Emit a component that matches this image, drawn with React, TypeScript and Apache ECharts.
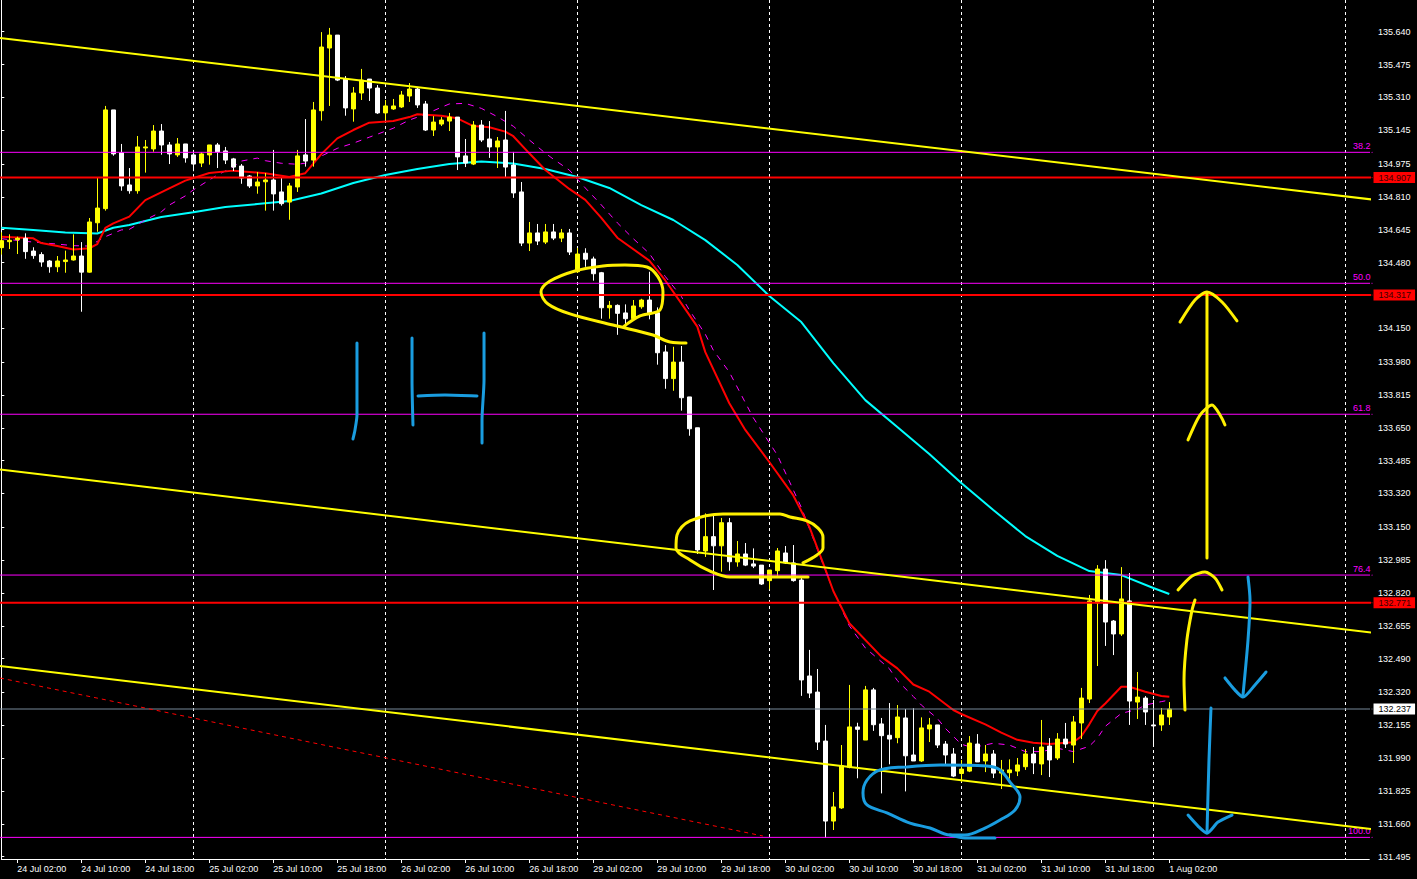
import React, { useEffect, useRef } from "react";
import * as echarts from "echarts";

// ---------- time slots ----------
const DAYS = ["24 Jul", "25 Jul", "26 Jul", "29 Jul", "30 Jul", "31 Jul", "1 Aug", "2 Aug"];
const SLOT_COUNT = 172;
const CATEGORIES: string[] = [];
for (let i = 0; i < SLOT_COUNT; i++) {
  CATEGORIES.push(`${DAYS[Math.floor(i / 24)]} ${String(i % 24).padStart(2, "0")}:00`);
}
const X_TICK_LABELS = [
  "24 Jul 02:00", "24 Jul 10:00", "24 Jul 18:00", "25 Jul 02:00", "25 Jul 10:00", "25 Jul 18:00",
  "26 Jul 02:00", "26 Jul 10:00", "26 Jul 18:00", "29 Jul 02:00", "29 Jul 10:00", "29 Jul 18:00",
  "30 Jul 02:00", "30 Jul 10:00", "30 Jul 18:00", "31 Jul 02:00", "31 Jul 10:00", "31 Jul 18:00",
  "1 Aug 02:00",
];
const DAY_START_SLOTS = ["24 Jul 00:00", "25 Jul 00:00", "26 Jul 00:00", "29 Jul 00:00", "30 Jul 00:00", "31 Jul 00:00", "1 Aug 00:00", "2 Aug 00:00"];

// ---------- price axis ----------
const Y_MIN = 131.4834;
const Y_MAX = 135.7993;
const Y_TICKS = [
  135.64, 135.475, 135.31, 135.145, 134.975, 134.81, 134.645, 134.48, 134.15, 133.98, 133.815,
  133.65, 133.485, 133.32, 133.15, 132.985, 132.82, 132.655, 132.49, 132.32, 132.155, 131.99,
  131.825, 131.66, 131.495,
];

// ---------- candles (H1) ----------
const OPEN = [
  134.555, 134.585, 134.595, 134.602, 134.538, 134.520, 134.488, 134.459, 134.485, 134.493,
  134.513, 134.432, 134.680, 134.751, 135.247, 135.032, 134.870, 134.841, 135.056, 135.051,
  135.141, 135.071, 135.021, 135.076, 135.021, 134.980, 135.021, 135.071, 135.041, 135.001,
  134.965, 134.915, 134.865, 134.886, 134.895, 134.835, 134.784, 134.860, 135.021, 134.995,
  135.243, 135.558, 135.623, 135.402, 135.252, 135.332, 135.402, 135.357, 135.232, 135.252,
  135.262, 135.317, 135.352, 135.277, 135.146, 135.176, 135.191, 135.211, 135.016, 134.975,
  135.171, 135.101, 135.061, 135.096, 134.970, 134.835, 134.578, 134.629, 134.583, 134.634,
  134.603, 134.629, 134.434, 134.527, 134.498, 134.429, 134.253, 134.265, 134.227, 134.198,
  134.258, 134.292, 134.228, 134.031, 133.897, 133.980, 133.805, 133.650, 133.031, 133.103,
  133.057, 133.173, 132.976, 133.016, 132.966, 132.960, 132.882, 132.932, 133.021, 132.971,
  132.885, 132.403, 132.322, 132.076, 131.674, 131.740, 131.944, 132.147, 132.081, 132.333,
  132.162, 132.105, 132.093, 132.192, 132.006, 131.976, 132.137, 132.157, 132.061, 132.011,
  131.913, 131.925, 132.061, 131.976, 132.011, 131.915, 131.917, 131.925, 131.947, 132.011,
  131.961, 132.051, 131.991, 132.086, 132.056, 132.167, 132.287, 132.770, 132.940, 132.679,
  132.614, 132.780, 132.272, 132.292, 132.157, 132.157, 132.197,
];
const CLOSE = [
  134.590, 134.592, 134.602, 134.535, 134.515, 134.483, 134.459, 134.488, 134.493, 134.513,
  134.432, 134.684, 134.754, 135.247, 135.026, 134.865, 134.841, 135.061, 135.061, 135.141,
  135.071, 135.026, 135.076, 135.006, 134.975, 135.026, 135.071, 135.036, 134.995, 134.960,
  134.905, 134.865, 134.885, 134.895, 134.825, 134.776, 134.865, 135.016, 134.990, 135.247,
  135.563, 135.623, 135.397, 135.257, 135.332, 135.397, 135.357, 135.232, 135.267, 135.267,
  135.322, 135.352, 135.272, 135.146, 135.186, 135.196, 135.211, 135.011, 134.980, 135.171,
  135.096, 135.061, 135.091, 134.960, 134.830, 134.578, 134.629, 134.588, 134.634, 134.603,
  134.629, 134.533, 134.523, 134.497, 134.424, 134.253, 134.265, 134.225, 134.198, 134.262,
  134.292, 134.225, 134.027, 133.897, 133.980, 133.801, 133.645, 133.036, 133.103, 133.057,
  133.173, 132.977, 133.016, 132.960, 132.955, 132.865, 132.935, 133.031, 132.971, 132.882,
  132.383, 132.317, 132.071, 131.674, 131.745, 131.952, 132.147, 132.135, 132.333, 132.158,
  132.103, 132.086, 132.197, 132.002, 131.976, 132.142, 132.157, 132.056, 132.006, 131.900,
  131.935, 132.066, 131.971, 132.011, 131.915, 131.931, 131.931, 131.956, 132.011, 131.966,
  132.046, 131.981, 132.086, 132.061, 132.172, 132.292, 132.780, 132.940, 132.674, 132.614,
  132.790, 132.277, 132.297, 132.222, 132.152, 132.207, 132.237,
];
const LOW = [
  134.520, 134.548, 134.523, 134.499, 134.499, 134.459, 134.429, 134.432, 134.429, 134.490,
  134.233, 134.429, 134.635, 134.741, 135.017, 134.841, 134.826, 134.826, 134.932, 135.037,
  135.022, 134.975, 135.011, 134.982, 134.939, 134.960, 134.972, 134.955, 134.975, 134.940,
  134.876, 134.855, 134.826, 134.741, 134.741, 134.766, 134.695, 134.835, 134.962, 134.962,
  135.193, 135.267, 135.392, 135.218, 135.188, 135.297, 135.292, 135.227, 135.196, 135.247,
  135.257, 135.287, 135.257, 135.141, 135.116, 135.166, 135.141, 134.945, 134.960, 134.970,
  135.086, 135.006, 134.955, 134.910, 134.805, 134.563, 134.538, 134.568, 134.573, 134.593,
  134.583, 134.518, 134.428, 134.459, 134.389, 134.198, 134.198, 134.117, 134.151, 134.191,
  134.248, 134.195, 133.967, 133.846, 133.836, 133.736, 133.610, 133.016, 133.001, 132.835,
  132.927, 132.932, 132.952, 132.955, 132.945, 132.860, 132.838, 132.905, 132.966, 132.877,
  132.303, 132.292, 132.031, 131.589, 131.629, 131.735, 131.939, 131.889, 132.081, 132.127,
  131.813, 131.959, 132.065, 131.823, 131.976, 131.971, 132.071, 132.041, 131.951, 131.895,
  131.870, 131.920, 131.971, 131.920, 131.890, 131.835, 131.887, 131.900, 131.931, 131.910,
  131.905, 131.895, 131.981, 132.041, 131.966, 132.086, 132.267, 132.453, 132.554, 132.508,
  132.604, 132.157, 132.187, 132.157, 132.056, 132.127, 132.157,
];
const HIGH = [
  134.632, 134.622, 134.610, 134.627, 134.557, 134.532, 134.493, 134.513, 134.540, 134.622,
  134.583, 134.704, 134.908, 135.267, 135.247, 135.076, 134.955, 135.116, 135.096, 135.171,
  135.176, 135.086, 135.106, 135.076, 135.046, 135.034, 135.071, 135.081, 135.061, 135.006,
  134.975, 134.920, 134.935, 134.930, 135.046, 134.905, 134.880, 135.046, 135.201, 135.287,
  135.638, 135.659, 135.623, 135.417, 135.362, 135.453, 135.402, 135.372, 135.297, 135.302,
  135.342, 135.382, 135.362, 135.292, 135.216, 135.211, 135.232, 135.211, 135.101, 135.191,
  135.196, 135.191, 135.111, 135.242, 135.036, 134.885, 134.684, 134.674, 134.674, 134.674,
  134.649, 134.649, 134.553, 134.552, 134.510, 134.433, 134.287, 134.270, 134.270, 134.292,
  134.298, 134.434, 134.255, 134.065, 134.057, 134.061, 133.805, 133.650, 133.220, 133.212,
  133.197, 133.197, 133.081, 133.071, 133.044, 132.960, 132.935, 133.046, 133.056, 133.061,
  132.897, 132.534, 132.438, 132.157, 131.820, 132.056, 132.358, 132.168, 132.353, 132.343,
  132.192, 132.267, 132.257, 132.237, 132.241, 132.195, 132.192, 132.157, 132.076, 132.041,
  131.981, 132.101, 132.111, 132.056, 132.031, 131.981, 131.984, 131.991, 132.036, 132.046,
  132.182, 132.091, 132.116, 132.167, 132.202, 132.343, 132.810, 132.960, 132.985, 132.684,
  132.950, 132.920, 132.423, 132.302, 132.282, 132.242, 132.272,
];

// ---------- moving averages [bar, price] ----------
const MA_SLOW = [
  [0, 134.655], [4, 134.644], [8, 134.631], [12, 134.626], [14, 134.655], [16, 134.669], [20, 134.709],
  [24, 134.733], [28, 134.759], [32, 134.774], [36, 134.789], [40, 134.827], [44, 134.880], [48, 134.920],
  [52, 134.950], [56, 134.975], [60, 134.988], [64, 134.978], [68, 134.950], [72, 134.910], [76, 134.855],
  [80, 134.769], [84, 134.694], [88, 134.593], [92, 134.468], [96, 134.312], [100, 134.181], [104, 133.975],
  [108, 133.789], [112, 133.654], [116, 133.518], [120, 133.372], [124, 133.237], [128, 133.106],
  [132, 133.006], [136, 132.930], [140, 132.910], [144, 132.845], [146, 132.815],
];
const MA_FAST = [
  [0, 134.610], [4, 134.602], [5, 134.578], [7, 134.563], [9, 134.546], [11, 134.552], [12, 134.573],
  [13, 134.654], [14, 134.677], [16, 134.711], [18, 134.794], [21, 134.853], [23, 134.892], [26, 134.930],
  [29, 134.942], [33, 134.929], [36, 134.910], [38, 134.929], [40, 135.025], [42, 135.104], [44, 135.146],
  [46, 135.183], [49, 135.191], [51, 135.211], [52, 135.225], [55, 135.218], [57, 135.205], [59, 135.166],
  [61, 135.160], [63, 135.138], [64, 135.115], [66, 135.029], [68, 134.945], [71, 134.850], [73, 134.795],
  [75, 134.705], [77, 134.605], [81, 134.490], [83, 134.390], [85, 134.275], [87, 134.158], [88, 134.030],
  [91, 133.773], [93, 133.639], [96, 133.478], [99, 133.310], [101, 133.153], [103, 132.940], [104, 132.830],
  [106, 132.668], [110, 132.500], [112, 132.441], [114, 132.360], [116, 132.324], [119, 132.232],
  [120, 132.212], [123, 132.160], [125, 132.118], [127, 132.082], [129, 132.068], [131, 132.061],
  [134, 132.070], [135, 132.100], [136, 132.160], [137, 132.227], [138, 132.265], [140, 132.349],
  [141, 132.349], [143, 132.324], [145, 132.302], [146, 132.299],
];
const MA_MID = [
  [0, 134.600], [4, 134.583], [7, 134.573], [9, 134.565], [11, 134.563], [13, 134.610], [15, 134.644],
  [16, 134.647], [18, 134.694], [20, 134.735], [21, 134.769], [23, 134.815], [24, 134.845], [26, 134.895],
  [27, 134.920], [29, 134.960], [30, 134.990], [32, 135.005], [33, 134.992], [35, 134.979], [37, 134.974],
  [39, 134.985], [40, 135.015], [42, 135.054], [44, 135.080], [46, 135.110], [49, 135.155], [51, 135.196],
  [53, 135.225], [55, 135.260], [56, 135.277], [58, 135.280], [60, 135.255], [62, 135.213], [64, 135.165],
  [66, 135.096], [68, 135.030], [69, 135.000], [71, 134.945], [73, 134.855], [75, 134.770], [77, 134.680],
  [79, 134.600], [81, 134.526], [83, 134.410], [85, 134.310], [86, 134.242], [88, 134.120], [89, 134.040],
  [91, 133.930], [94, 133.700], [97, 133.513], [100, 133.250], [102, 133.040], [104, 132.830],
  [106, 132.655], [108, 132.544], [111, 132.440], [112, 132.380], [114, 132.300], [115, 132.257],
  [117, 132.190], [118, 132.140], [120, 132.060], [121, 132.048], [122, 132.048], [124, 132.065],
  [126, 132.056], [128, 132.023], [130, 132.023], [132, 132.040], [134, 132.023], [136, 132.050],
  [137, 132.090], [138, 132.150], [140, 132.215], [142, 132.235], [143, 132.257], [145, 132.274],
  [146, 132.282],
];

// ---------- chart objects ----------
const PLOT_LEFT_BAR = -0.1625;
const PLOT_RIGHT_BAR = 171.34;
const RED_LEVELS = [134.907, 134.317, 132.771];
const FIB_LEVELS = [135.034, 134.376, 133.718, 132.910, 131.592];
const FIB_NAMES = ["38.2", "50.0", "61.8", "76.4", "100.0"];
const BID_PRICE = 132.237;
const CHANNEL_TOP = [[PLOT_LEFT_BAR, 135.608], [PLOT_RIGHT_BAR, 134.797]];
const CHANNEL_MID = [[PLOT_LEFT_BAR, 133.440], [PLOT_RIGHT_BAR, 132.621]];
const CHANNEL_LOW = [[PLOT_LEFT_BAR, 132.453], [PLOT_RIGHT_BAR, 131.634]];
const RED_TREND = [[PLOT_LEFT_BAR, 132.393], [95.2, 131.599]];

// ---------- hand-drawn annotations [bar, price] ----------
const YELLOW_STROKES = [
  [[77.71, 134.156], [79.84, 134.212], [82.34, 134.242], [82.71, 134.332], [82.09, 134.408], [80.71, 134.458],
   [77.96, 134.468], [75.21, 134.463], [71.71, 134.438], [68.59, 134.387], [67.46, 134.332], [68.34, 134.272],
   [71.09, 134.222], [76.46, 134.166], [81.46, 134.116], [83.59, 134.081], [85.59, 134.076]],
  [[100.21, 132.971], [101.96, 133.011], [102.71, 133.046], [102.71, 133.101], [102.09, 133.146], [100.71, 133.182],
   [98.59, 133.202], [97.34, 133.217], [90.21, 133.217], [86.09, 133.182], [84.46, 133.111], [84.34, 133.046],
   [86.09, 132.986], [88.59, 132.930], [91.09, 132.900], [96.09, 132.900], [100.84, 132.900]],
  [[150.71, 132.996], [150.71, 134.327]],
  [[147.34, 134.181], [149.21, 134.292], [150.71, 134.332], [152.59, 134.282], [154.46, 134.187]],
  [[148.34, 133.589], [149.84, 133.714], [151.34, 133.764], [152.34, 133.714], [152.96, 133.664]],
  [[147.09, 132.835], [148.84, 132.905], [150.46, 132.925], [151.71, 132.895], [152.59, 132.835]],
  [[147.96, 132.232], [147.84, 132.383], [148.2, 132.584], [148.84, 132.734], [149.21, 132.785]],
];
const BLUE_STROKES = [
  [[155.84, 132.900], [156.09, 132.785], [155.84, 132.584], [155.21, 132.307]],
  [[152.96, 132.393], [154.21, 132.332], [155.21, 132.297], [156.71, 132.358], [158.09, 132.423]],
  [[151.21, 132.242], [150.96, 131.981], [150.71, 131.614]],
  [[148.34, 131.704], [149.59, 131.649], [150.71, 131.614], [152.09, 131.669], [153.84, 131.704]],
  [[113.21, 131.946], [117.34, 131.956], [123.21, 131.951], [124.84, 131.931], [126.09, 131.870],
   [127.34, 131.795], [126.71, 131.730], [124.84, 131.679], [122.96, 131.639], [120.46, 131.604],
   [118.59, 131.604], [116.09, 131.639], [113.59, 131.664], [110.71, 131.715], [108.21, 131.755],
   [107.71, 131.815], [108.21, 131.880], [109.84, 131.931], [113.21, 131.946]],
  [[118.59, 131.604], [120.46, 131.589], [124.21, 131.589]],
  [[44.46, 134.076], [44.46, 133.890], [44.46, 133.714], [44.21, 133.639], [43.96, 133.594]],
  [[51.34, 134.101], [51.34, 133.890], [51.46, 133.664]],
  [[52.09, 133.810], [55.46, 133.815], [59.46, 133.810]],
  [[60.34, 134.126], [60.34, 133.890], [60.09, 133.689], [60.09, 133.573]],
];

const FONT = "'Liberation Sans', Arial, sans-serif";

function levelLine(price: number, color: string, width: number, label: any, z: number) {
  return {
    type: "line",
    xAxisIndex: 1,
    yAxisIndex: 0,
    clip: false,
    silent: true,
    symbol: "none",
    showSymbol: true,
    z,
    lineStyle: { color, width, type: "solid" },
    data: [
      [PLOT_LEFT_BAR, price],
      { value: [PLOT_RIGHT_BAR, price], symbol: "circle", symbolSize: 1, itemStyle: { color }, label },
    ],
  };
}

function strokeSeries(points: number[][], color: string, smooth: number) {
  return {
    type: "line",
    xAxisIndex: 1,
    yAxisIndex: 0,
    clip: false,
    silent: true,
    symbol: "none",
    smooth,
    z: 8,
    lineStyle: { color, width: 3, cap: "round", join: "round" },
    data: points,
  };
}

function buildOption() {
  const candles = OPEN.map((o, i) => [o, CLOSE[i], LOW[i], HIGH[i]]);
  const series: any[] = [];

  series.push({
    type: "line", xAxisIndex: 1, yAxisIndex: 0, symbol: "none", silent: true, z: 3,
    lineStyle: { color: "#00ffff", width: 2 }, data: MA_SLOW,
  });
  series.push({
    type: "line", xAxisIndex: 1, yAxisIndex: 0, symbol: "none", silent: true, z: 3,
    lineStyle: { color: "#ff00ff", width: 1, type: [6, 6] }, data: MA_MID,
  });
  series.push({
    type: "line", xAxisIndex: 1, yAxisIndex: 0, symbol: "none", silent: true, z: 3,
    lineStyle: { color: "#ff0000", width: 2 }, data: MA_FAST,
  });

  series.push({
    type: "candlestick",
    xAxisIndex: 0,
    yAxisIndex: 0,
    barWidth: 4,
    silent: true,
    z: 4,
    itemStyle: {
      color: "#ffff00", color0: "#ffffff",
      borderColor: "#ffff00", borderColor0: "#ffffff", borderWidth: 1,
    },
    data: candles,
  });

  FIB_LEVELS.forEach((p, i) => {
    series.push(levelLine(p, "#ff00ff", 1, {
      show: true, position: "left", distance: 1, offset: [0, -6], formatter: FIB_NAMES[i],
      color: "#ff00ff", fontSize: 9, fontFamily: FONT,
    }, 5));
  });
  RED_LEVELS.forEach((p) => {
    series.push(levelLine(p, "#ff0000", 2, {
      show: true, position: "right", distance: 1, formatter: p.toFixed(3),
      color: "#3a0000", backgroundColor: "#ff0000", padding: [1, 4, 1, 5],
      fontSize: 9, fontFamily: FONT,
    }, 5));
  });
  series.push(levelLine(BID_PRICE, "#778899", 1, {
    show: true, position: "right", distance: 1, formatter: BID_PRICE.toFixed(3),
    color: "#000000", backgroundColor: "#ffffff", padding: [1, 4, 1, 5],
    fontSize: 9, fontFamily: FONT,
  }, 5));

  [CHANNEL_TOP, CHANNEL_MID, CHANNEL_LOW].forEach((d) => {
    series.push({
      type: "line", xAxisIndex: 1, yAxisIndex: 0, clip: false, symbol: "none", silent: true, z: 6,
      lineStyle: { color: "#ffff00", width: 2 }, data: d,
    });
  });
  series.push({
    type: "line", xAxisIndex: 1, yAxisIndex: 0, clip: false, symbol: "none", silent: true, z: 6,
    lineStyle: { color: "#ff0000", width: 1, type: [4, 4] }, data: RED_TREND,
  });

  YELLOW_STROKES.forEach((s, i) => series.push(strokeSeries(s, "#fff000", i < 2 ? 0.35 : 0.25)));
  BLUE_STROKES.forEach((s, i) => series.push(strokeSeries(s, "#1a9de0", i === 4 ? 0.35 : 0.25)));

  return {
    animation: false,
    backgroundColor: "#000000",
    tooltip: { show: false },
    grid: { left: 1.3, right: 47.7, top: 0, bottom: 20, containLabel: false },
    xAxis: [
      {
        type: "category",
        data: CATEGORIES,
        boundaryGap: false,
        axisLine: { show: true, lineStyle: { color: "#ffffff", width: 1 } },
        axisTick: {
          show: true, length: 4, lineStyle: { color: "#ffffff" },
          interval: (_i: number, v: string) => X_TICK_LABELS.includes(v),
        },
        axisLabel: {
          show: true, color: "#ffffff", fontFamily: FONT, fontSize: 9, align: "left", margin: 5,
          interval: (_i: number, v: string) => X_TICK_LABELS.includes(v),
        },
        splitLine: {
          show: true,
          interval: (_i: number, v: string) => DAY_START_SLOTS.includes(v),
          lineStyle: { color: "#ffffff", width: 1, type: [3, 3] },
        },
      },
      { type: "value", min: 0, max: SLOT_COUNT - 1, show: false, splitLine: { show: false } },
    ],
    yAxis: [
      {
        type: "value",
        position: "right",
        offset: 2.7,
        min: Y_MIN,
        max: Y_MAX,
        axisLine: { show: true, lineStyle: { color: "#ffffff", width: 1 } },
        axisTick: { show: true, length: 3, customValues: Y_TICKS, lineStyle: { color: "#ffffff" } },
        axisLabel: {
          show: true, customValues: Y_TICKS, color: "#ffffff", fontFamily: FONT, fontSize: 9, margin: 6,
          formatter: (v: number) => v.toFixed(3),
        },
        splitLine: { show: false },
      },
    ],
    series,
  };
}

export default function App() {
  const ref = useRef<HTMLDivElement>(null);
  useEffect(() => {
    document.body.style.margin = "0";
    document.body.style.background = "#000000";
    if (!ref.current) return;
    const chart = echarts.init(ref.current, null, { renderer: "svg", width: 1417, height: 879 });
    chart.setOption(buildOption() as any);
    return () => chart.dispose();
  }, []);
  return (
    <div
      ref={ref}
      style={{ display: "block", width: 1417, height: 879, background: "#000000", overflow: "hidden" }}
    />
  );
}
